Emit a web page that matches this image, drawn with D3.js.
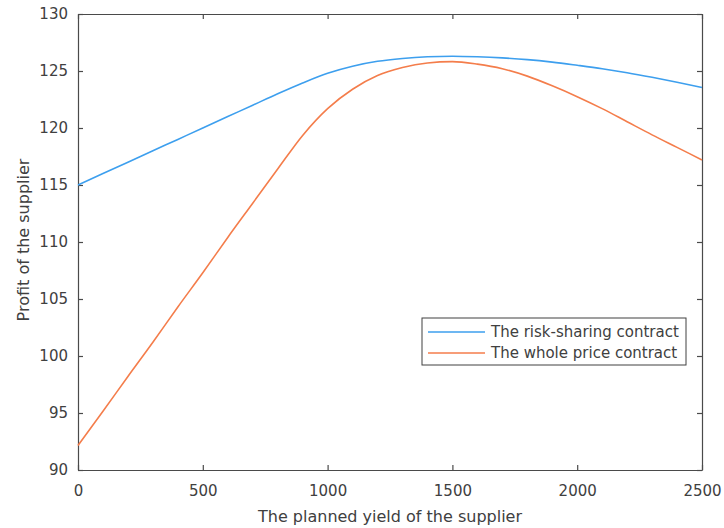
<!DOCTYPE html>
<html>
<head>
<meta charset="utf-8">
<script src="https://cdn.jsdelivr.net/npm/d3@7"></script>
<style>
  body { margin: 0; background: #fff; }
  text { font-family: "DejaVu Sans", sans-serif; fill: #404040; }
</style>
</head>
<body>
<div class="chart"></div>
<script>
// planned yield (x) and supplier profit for the two contracts
var yieldVals = [0, 100, 200, 300, 400, 500, 600, 700, 800, 900, 1000, 1100, 1200, 1300,
  1400, 1500, 1600, 1700, 1800, 1900, 2000, 2100, 2200, 2300, 2400, 2500];
var riskSharing = [115.0, 116.0, 117.0, 118.0, 119.0, 120.0, 121.0, 122.0, 123.0, 123.95,
  124.8, 125.42, 125.85, 126.1, 126.25, 126.3, 126.25, 126.15, 126.0, 125.78,
  125.5, 125.2, 124.85, 124.45, 124.02, 123.55];
var wholePrice = [92.15, 95.15, 98.2, 101.2, 104.3, 107.3, 110.4, 113.4, 116.4, 119.35,
  121.7, 123.4, 124.6, 125.3, 125.7, 125.82, 125.6, 125.2, 124.55, 123.7,
  122.75, 121.7, 120.55, 119.4, 118.3, 117.2];
var seriesNames = ["The risk-sharing contract", "The whole price contract"];
var xTicks = [0, 500, 1000, 1500, 2000, 2500];
var yTicks = [90, 95, 100, 105, 110, 115, 120, 125, 130];

var width = 724, height = 528;
var margin = {left: 78, right: 22, top: 14, bottom: 58};
var colors = ["#3d9fee", "#f47d4b"];

var svg = d3.select(".chart").append("svg")
    .attr("width", width)
    .attr("height", height);

var x = d3.scaleLinear().domain([0, 2500]).range([margin.left, width - margin.right]);
var y = d3.scaleLinear().domain([90, 130]).range([height - margin.bottom, margin.top]);

var axisColor = "#4a4a4a";
var fmt = d3.format("d");

// axes with inward ticks (box style)
var gx = svg.append("g")
    .attr("transform", "translate(0," + y(90) + ")")
    .call(d3.axisBottom(x).tickValues(xTicks).tickFormat(fmt).tickSizeInner(-5).tickSizeOuter(0).tickPadding(15));
var gy = svg.append("g")
    .attr("transform", "translate(" + x(0) + ",0)")
    .call(d3.axisLeft(y).tickValues(yTicks).tickFormat(fmt).tickSizeInner(-5).tickSizeOuter(0).tickPadding(10));
var gxTop = svg.append("g")
    .attr("transform", "translate(0," + y(130) + ")")
    .call(d3.axisTop(x).tickValues(xTicks).tickSizeInner(-5).tickSizeOuter(0).tickFormat(""));
var gyRight = svg.append("g")
    .attr("transform", "translate(" + x(2500) + ",0)")
    .call(d3.axisRight(y).tickValues(yTicks).tickSizeInner(-5).tickSizeOuter(0).tickFormat(""));

[gx, gy, gxTop, gyRight].forEach(function(g) {
  g.select(".domain").attr("stroke", axisColor).attr("stroke-width", 1.2);
  g.selectAll(".tick line").attr("stroke", axisColor).attr("stroke-width", 1.2);
  g.selectAll(".tick text")
    .attr("font-family", "DejaVu Sans, sans-serif")
    .attr("font-size", "15px")
    .attr("fill", "#404040");
});

// curves
var data = [riskSharing, wholePrice];
var line = d3.line()
    .x(function(d, i) { return x(yieldVals[i]); })
    .y(function(d) { return y(d); })
    .curve(d3.curveMonotoneX);

svg.selectAll(".series")
    .data(data)
    .enter().append("path")
    .attr("class", "series")
    .attr("fill", "none")
    .attr("stroke", function(d, i) { return colors[i]; })
    .attr("stroke-width", 1.6)
    .attr("d", line);

// axis labels
svg.append("text")
    .attr("x", (x(0) + x(2500)) / 2)
    .attr("y", 522)
    .attr("text-anchor", "middle")
    .attr("font-size", "16px")
    .text("The planned yield of the supplier");

svg.append("text")
    .attr("transform", "translate(29," + (y(110) - 2) + ") rotate(-90)")
    .attr("text-anchor", "middle")
    .attr("font-size", "16px")
    .text("Profit of the supplier");

// legend
var legend = svg.append("g").attr("transform", "translate(422,318)");
legend.append("rect")
    .attr("width", 264)
    .attr("height", 47)
    .attr("fill", "#fff")
    .attr("stroke", "#404040")
    .attr("stroke-width", 1);

var item = legend.selectAll(".item")
    .data(seriesNames)
    .enter().append("g")
    .attr("class", "item")
    .attr("transform", function(d, i) { return "translate(0," + (14 + i * 21) + ")"; });

item.append("line")
    .attr("x1", 6).attr("x2", 63)
    .attr("stroke", function(d, i) { return colors[i]; })
    .attr("stroke-width", 1.6);

item.append("text")
    .attr("x", 69)
    .attr("dy", "0.36em")
    .attr("font-size", "15px")
    .text(function(d) { return d; });
</script>
</body>
</html>
